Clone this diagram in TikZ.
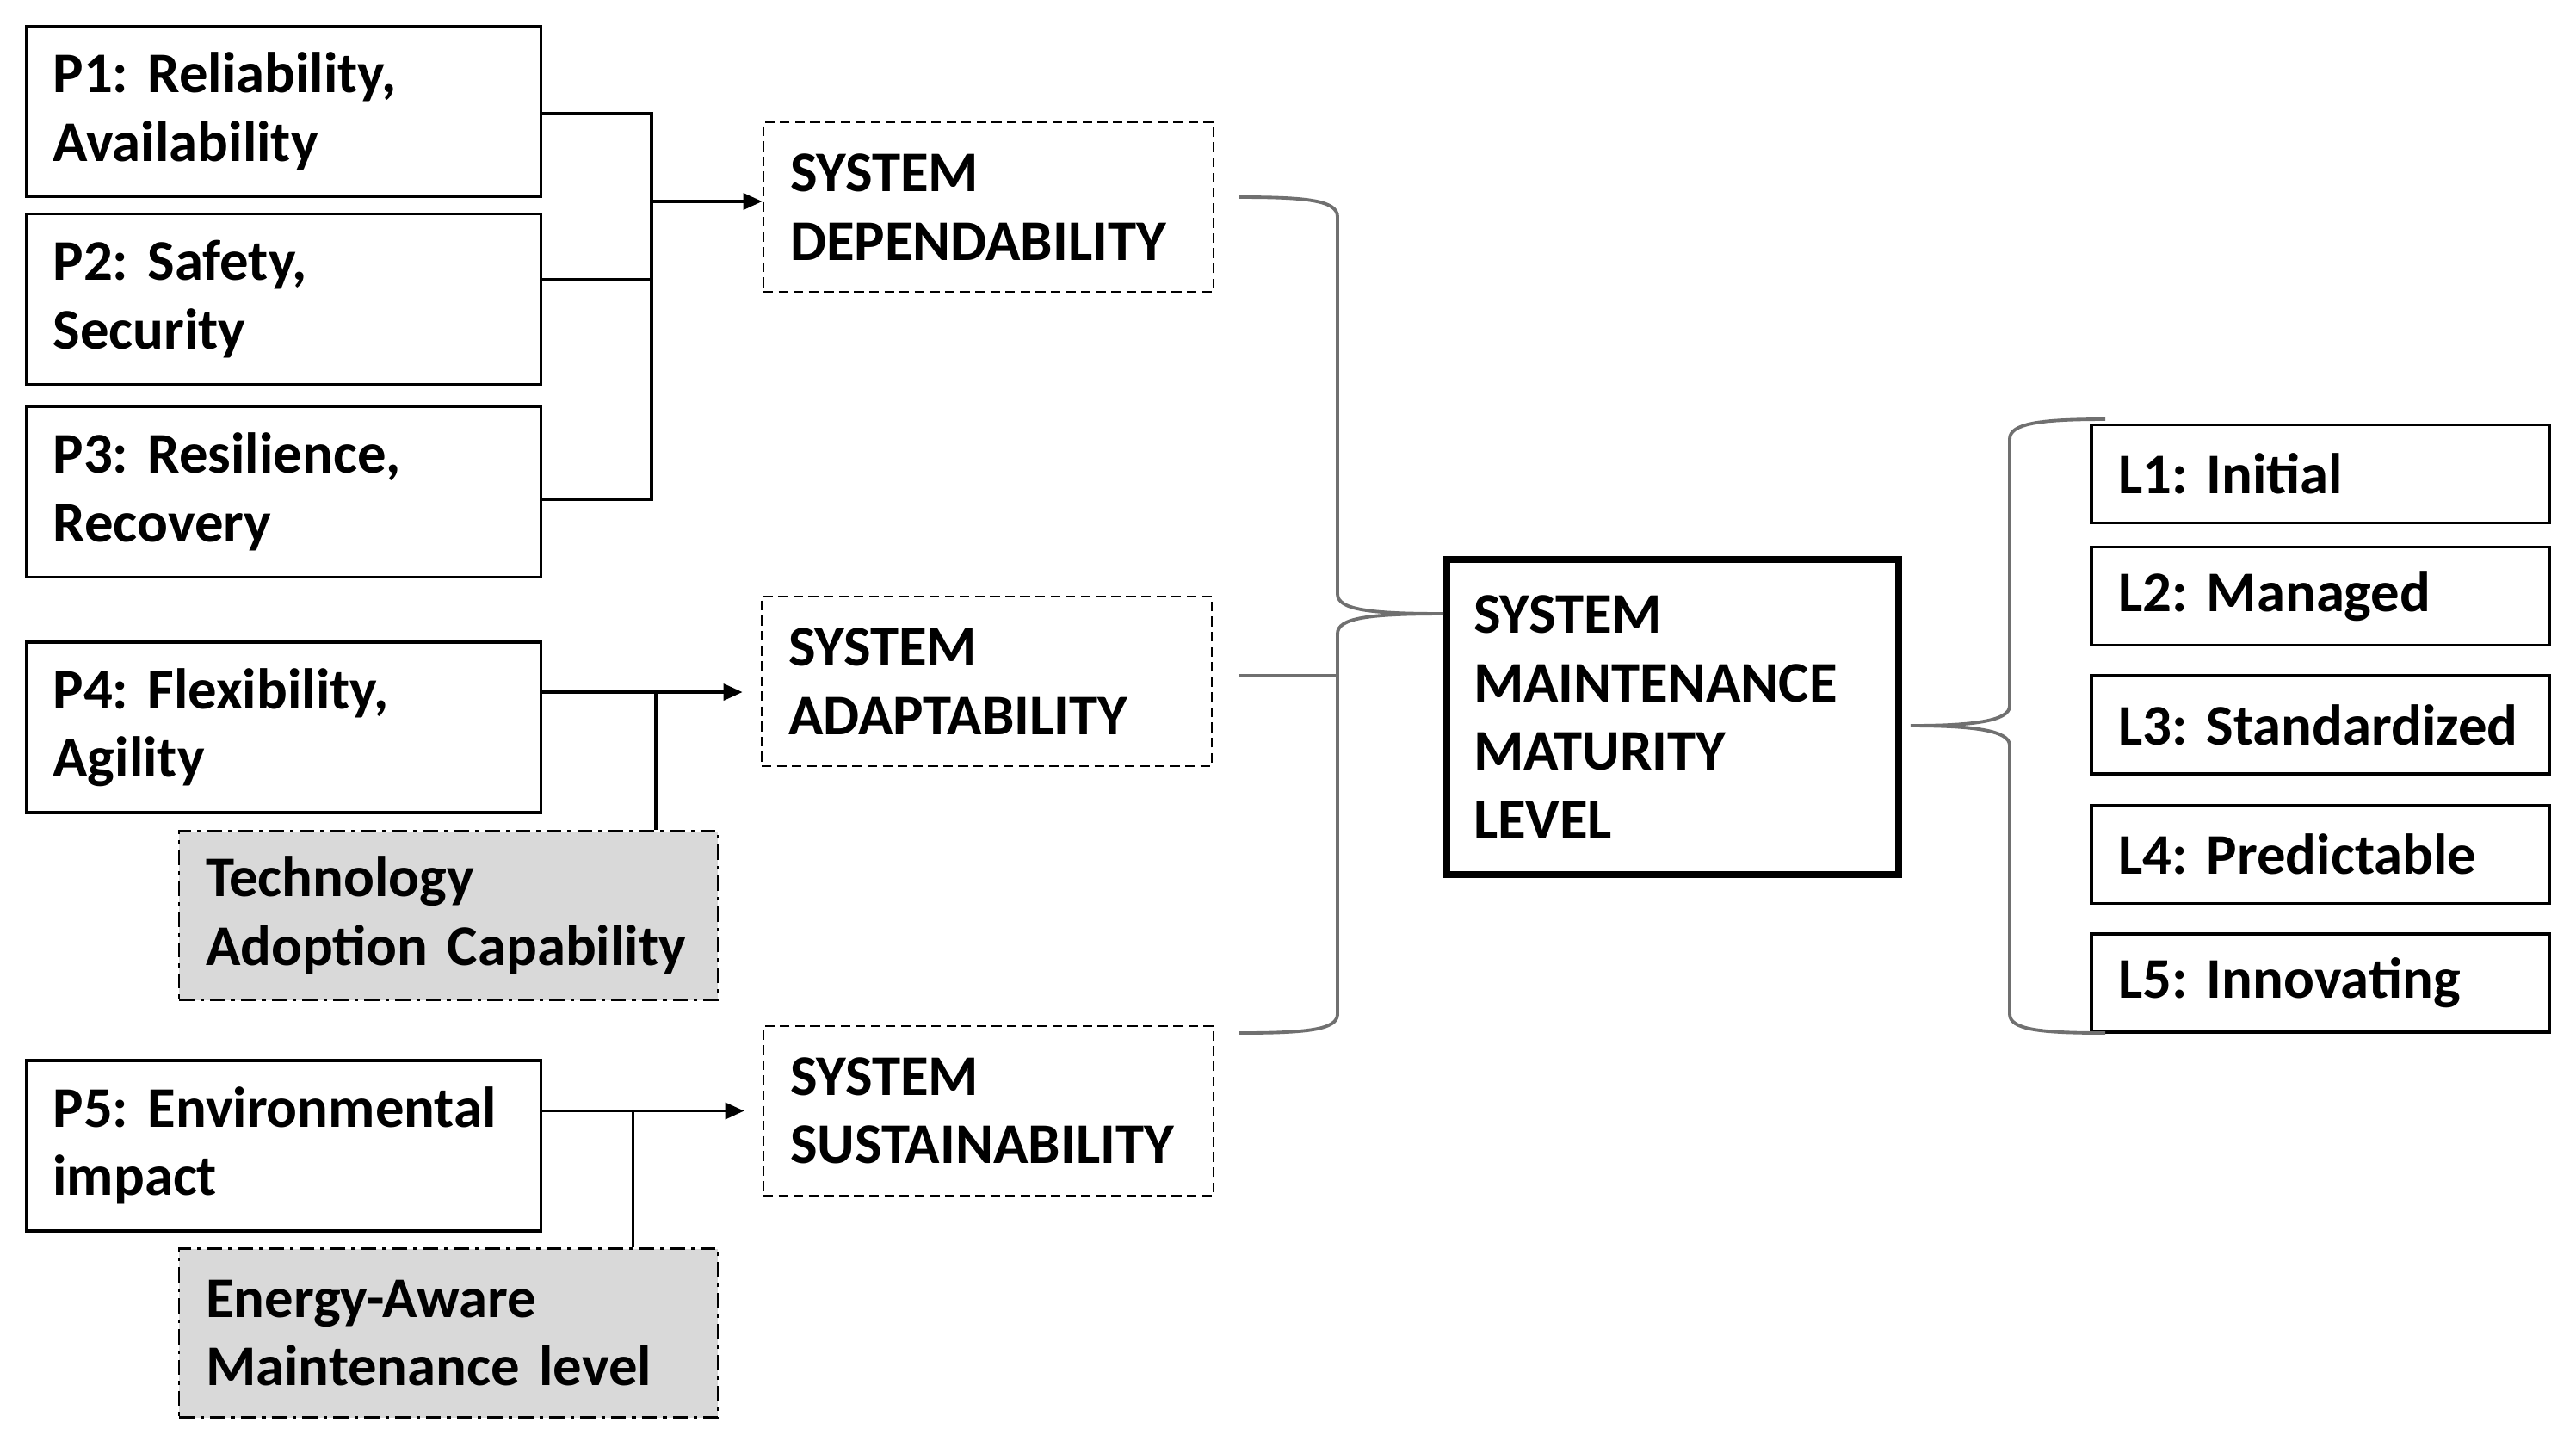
\documentclass[tikz,border=0pt]{standalone}
\usepackage{fontspec}
\setmainfont{Carlito}
\usetikzlibrary{arrows.meta}
\frenchspacing
\hyphenpenalty=10000
\definecolor{boxgray}{RGB}{217,217,217}
\definecolor{linegray}{RGB}{112,112,112}
\tikzset{
  base/.style={draw, font=\fontsize{19}{22.6}\selectfont\bfseries, align=left,
    inner xsep=0.31cm, inner ysep=0pt},
  pbox/.style={base, line width=1.1pt, text width=5.36cm, minimum height=1.98cm},
  sysbox/.style={base, line width=0.8pt, dash pattern=on 3.2pt off 1.8pt,
    text width=4.61cm, minimum height=1.97cm},
  extbox/.style={base, line width=0.8pt, fill=boxgray,
    dash pattern=on 5pt off 2pt on 1.2pt off 2pt, text width=5.64cm, minimum height=1.96cm},
  mainbox/.style={base, line width=2.2pt, text width=4.63cm, minimum height=3.66cm},
  lbox/.style={base, line width=1pt, text width=4.70cm, minimum height=1.14cm},
  link/.style={line width=1pt},
  arr/.style={link, -{Triangle[length=0.22cm,width=0.19cm]}},
  brace/.style={linegray, line width=1.1pt}
}
\begin{document}
\begin{tikzpicture}
  \useasboundingbox (0,0) rectangle (29.93,-16.73);
  \draw
    (3.295,-1.295) node[pbox] (P1) {P1: Reliability,\\Availability}
    (3.295,-3.475) node[pbox] (P2) {P2: Safety,\\Security}
    (3.295,-5.715) node[pbox] (P3) {P3: Resilience,\\Recovery}
    (3.295,-8.45) node[pbox] (P4) {P4: Flexibility,\\Agility}
    (3.295,-13.31) node[pbox] (P5) {P5: Environmental\\impact}
    (5.21,-10.635) node[extbox] (TAC) {Technology\\Adoption Capability}
    (5.21,-15.485) node[extbox] (EAM) {Energy-Aware\\Maintenance level}
    (11.485,-2.405) node[sysbox] (DEP) {SYSTEM\\DEPENDABILITY}
    (11.465,-7.915) node[sysbox] (ADA) {SYSTEM\\ADAPTABILITY}
    (11.485,-12.905) node[sysbox] (SUS) {SYSTEM\\SUSTAINABILITY}
    (19.435,-8.33) node[mainbox] (SMML) {SYSTEM\\MAINTENANCE\\MATURITY\\LEVEL}
    (26.96,-5.505) node[lbox] (L1) {L1: Initial}
    (26.96,-6.925) node[lbox] (L2) {L2: Managed}
    (26.96,-8.42) node[lbox] (L3) {L3: Standardized}
    (26.96,-9.925) node[lbox] (L4) {L4: Predictable}
    (26.96,-11.42) node[lbox] (L5) {L5: Innovating};
  \coordinate (jD) at (7.57,-2.34);
  \coordinate (jA) at (7.62,-8.04);
  \coordinate (jS) at (7.356,-12.905);
  \coordinate (bT) at (14.40,-2.29);
  \coordinate (bA) at (14.40,-7.85);
  \coordinate (bB) at (14.40,-12.00);
  \coordinate (bTip) at ([yshift=1.2cm]SMML.west);
  \coordinate (rT) at (24.46,-4.87);
  \coordinate (rB) at (24.46,-12.00);
  \coordinate (rTip) at ([xshift=0.1cm,yshift=-0.1cm]SMML.east);
  \begin{scope}[link]
    \draw ([yshift=-0.025cm]P1.east) -| ([yshift=-0.085cm]P3.east -| jD) -- ([yshift=-0.085cm]P3.east);
    \draw ([yshift=0.23cm]P2.east) -- ([yshift=0.23cm]P2.east -| jD);
    \draw[arr] (jD) -- (jD -| DEP.west);
    \draw[arr] (P4.east |- jA) -- ([xshift=-0.21cm]ADA.west |- jA);
    \draw (jA) -- (jA |- TAC.north);
    \draw[arr] (P5.east |- SUS.west) -- ([xshift=-0.21cm]SUS.west);
    \draw (jS) -- (jS |- EAM.north);
  \end{scope}
  \begin{scope}[brace]
    \draw (bT) .. controls (15.2,-2.29) and (15.54,-2.33) .. (15.54,-2.52)
      -- (15.54,-6.9) .. controls (15.54,-7.08) and (15.9,-7.13) .. (bTip)
      .. controls (15.9,-7.13) and (15.54,-7.18) .. (15.54,-7.36)
      -- (15.54,-11.78) .. controls (15.54,-11.96) and (15.2,-12.0) .. (bB);
    \draw (bA) -- (15.54,-7.85);
    \draw (rT) .. controls (23.7,-4.87) and (23.35,-4.92) .. (23.35,-5.1)
      -- (23.35,-8.2) .. controls (23.35,-8.38) and (22.9,-8.43) .. (rTip)
      .. controls (22.9,-8.43) and (23.35,-8.48) .. (23.35,-8.66)
      -- (23.35,-11.78) .. controls (23.35,-11.96) and (23.7,-12.0) .. (rB);
  \end{scope}
\end{tikzpicture}
\end{document}
